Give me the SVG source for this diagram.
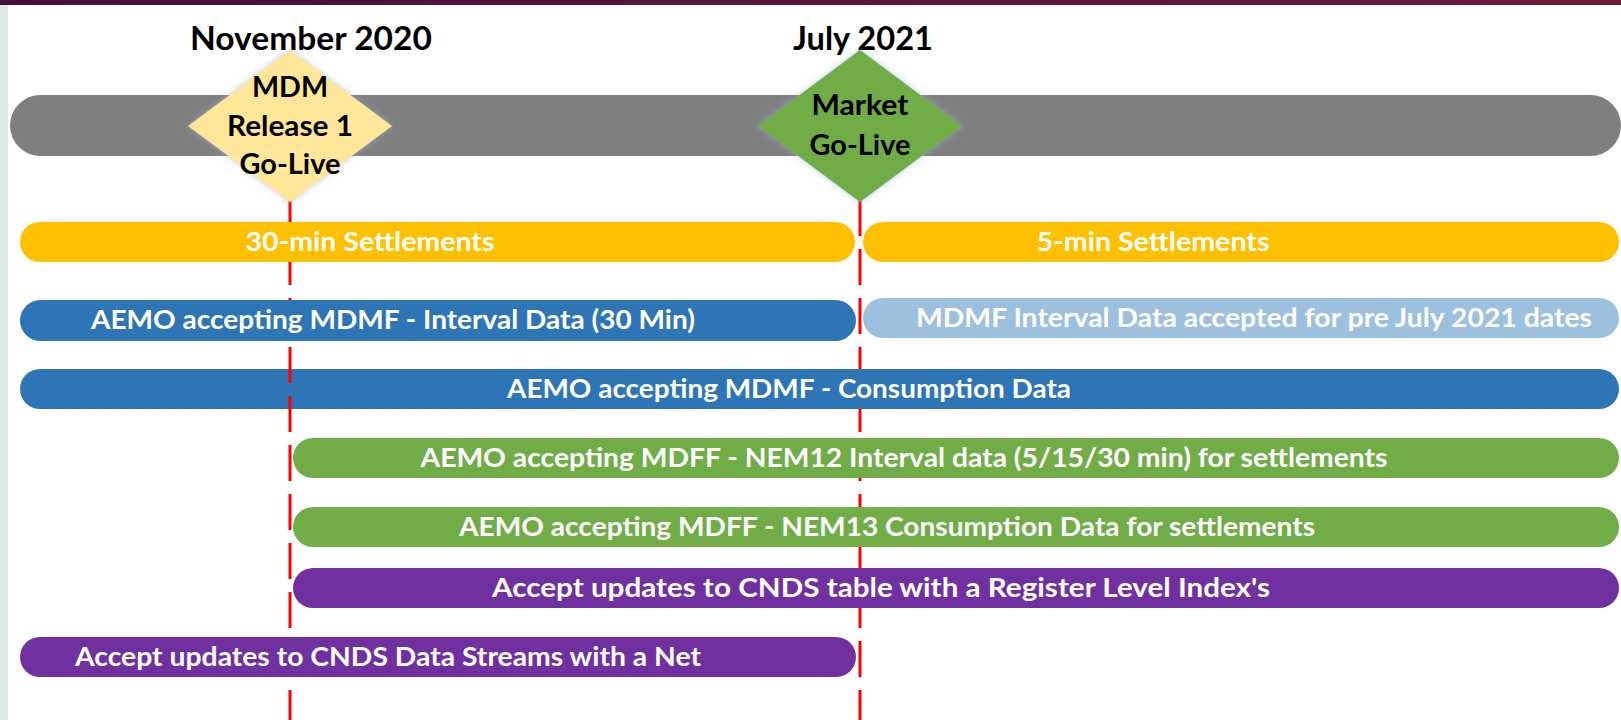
<svg xmlns="http://www.w3.org/2000/svg" width="1621" height="720" viewBox="0 0 1621 720">
  <defs>
    <linearGradient id="hdr" x1="0" y1="0" x2="1" y2="0">
      <stop offset="0" stop-color="#45103a"/>
      <stop offset="1" stop-color="#6e1a3c"/>
    </linearGradient>
    <filter id="glow" x="-20%" y="-20%" width="140%" height="140%">
      <feGaussianBlur in="SourceAlpha" stdDeviation="3" result="b"/>
      <feFlood flood-color="#9db4d6" flood-opacity="0.7"/>
      <feComposite in2="b" operator="in" result="s"/>
      <feMerge><feMergeNode in="s"/><feMergeNode in="SourceGraphic"/></feMerge>
    </filter>
    <clipPath id="clipNov">
      <rect x="280" y="195" width="20" height="27"/>
      <rect x="280" y="262" width="20" height="38"/>
      <rect x="280" y="341" width="20" height="296"/>
      <rect x="280" y="677" width="20" height="43"/>
    </clipPath>
    <clipPath id="clipJul">
      <rect x="850" y="195" width="20" height="174"/>
      <rect x="850" y="409" width="20" height="29"/>
      <rect x="850" y="478" width="20" height="29"/>
      <rect x="850" y="547" width="20" height="21"/>
      <rect x="850" y="608" width="20" height="112"/>
    </clipPath>
    <style>
      .t { font-family: Lato, "Liberation Sans", sans-serif; font-weight: bold; }
      .head { font-size: 32px; fill: #000; text-anchor: middle; }
      .dtext { font-size: 28px; fill: #000; text-anchor: middle; }
      .btext { font-size: 26px; fill: #fff; text-anchor: middle; }
      .yellow { fill: #ffc000; }
      .blue { fill: #2e75b6; }
      .lblue { fill: #9dc0de; }
      .green { fill: #70ad47; }
      .purple { fill: #7030a0; }
      .red { stroke: #ff0000; stroke-width: 3; stroke-dasharray: 36 13; fill: none; }
    </style>
  </defs>

  <rect x="0" y="0" width="1621" height="720" fill="#ffffff"/>
  <rect x="0" y="0" width="1621" height="5" fill="url(#hdr)"/>
  <rect x="0" y="5" width="8" height="715" fill="#dfe7e8"/>

  <g id="timeline">
    <rect x="10" y="95" width="1611" height="61" rx="30.5" fill="#7f7f7f"/>
  </g>

  <g id="headings" class="t">
    <text class="head" x="311" y="50" textLength="242" lengthAdjust="spacingAndGlyphs">November 2020</text>
    <text class="head" x="863" y="50" textLength="140" lengthAdjust="spacingAndGlyphs">July 2021</text>
  </g>

  <g id="bars">
    <g id="bar-30min">
      <rect class="yellow" x="20" y="222" width="835" height="40" rx="20"/>
      <text class="t btext" x="370" y="251" textLength="249" lengthAdjust="spacingAndGlyphs">30-min Settlements</text>
    </g>
    <g id="bar-5min">
      <rect class="yellow" x="863" y="222" width="756" height="40" rx="20"/>
      <text class="t btext" x="1153" y="251" textLength="233" lengthAdjust="spacingAndGlyphs">5-min Settlements</text>
    </g>
    <g id="bar-mdmf-interval">
      <rect class="blue" x="20" y="300" width="836" height="41" rx="20.5"/>
      <text class="t btext" x="393" y="329" textLength="604" lengthAdjust="spacingAndGlyphs">AEMO accepting MDMF - Interval Data (30 Min)</text>
    </g>
    <g id="bar-mdmf-pre">
      <rect class="lblue" x="863" y="298" width="756" height="40" rx="20"/>
      <text class="t btext" x="1254" y="327" textLength="676" lengthAdjust="spacingAndGlyphs">MDMF Interval Data accepted for pre July 2021 dates</text>
    </g>
    <g id="bar-mdmf-consumption">
      <rect class="blue" x="20" y="369" width="1599" height="40" rx="20"/>
      <text class="t btext" x="789" y="398" textLength="564" lengthAdjust="spacingAndGlyphs">AEMO accepting MDMF - Consumption Data</text>
    </g>
    <g id="bar-nem12">
      <rect class="green" x="293" y="438" width="1326" height="40" rx="20"/>
      <text class="t btext" x="904" y="467" textLength="967" lengthAdjust="spacingAndGlyphs">AEMO accepting MDFF - NEM12 Interval data (5/15/30 min) for settlements</text>
    </g>
    <g id="bar-nem13">
      <rect class="green" x="293" y="507" width="1326" height="40" rx="20"/>
      <text class="t btext" x="887" y="536" textLength="856" lengthAdjust="spacingAndGlyphs">AEMO accepting MDFF - NEM13 Consumption Data for settlements</text>
    </g>
    <g id="bar-cnds-register">
      <rect class="purple" x="293" y="568" width="1326" height="40" rx="20"/>
      <text class="t btext" x="881" y="597" textLength="778" lengthAdjust="spacingAndGlyphs">Accept updates to CNDS table with a Register Level Index's</text>
    </g>
    <g id="bar-cnds-net">
      <rect class="purple" x="20" y="637" width="836" height="40" rx="20"/>
      <text class="t btext" x="75" y="666" style="text-anchor:start" textLength="626" lengthAdjust="spacingAndGlyphs">Accept updates to CNDS Data Streams with a Net</text>
    </g>
  </g>

  <g id="connectors">
    <line class="red" x1="290" y1="200" x2="290" y2="720" clip-path="url(#clipNov)"/>
    <line class="red" x1="860" y1="200" x2="860" y2="720" clip-path="url(#clipJul)"/>
  </g>

  <g id="milestone-mdm">
    <polygon points="290,50 392,126 290,202 188,126" fill="#ffe699" filter="url(#glow)"/>
    <text class="t dtext" x="290" y="97" textLength="76" lengthAdjust="spacingAndGlyphs">MDM</text>
    <text class="t dtext" x="290" y="136" textLength="126" lengthAdjust="spacingAndGlyphs">Release 1</text>
    <text class="t dtext" x="290" y="174" textLength="101" lengthAdjust="spacingAndGlyphs">Go-Live</text>
  </g>

  <g id="milestone-market">
    <polygon points="860,50 962,126 860,202 758,126" fill="#70ad47" filter="url(#glow)"/>
    <text class="t dtext" x="860" y="115" textLength="97" lengthAdjust="spacingAndGlyphs">Market</text>
    <text class="t dtext" x="860" y="155" textLength="101" lengthAdjust="spacingAndGlyphs">Go-Live</text>
  </g>
</svg>
